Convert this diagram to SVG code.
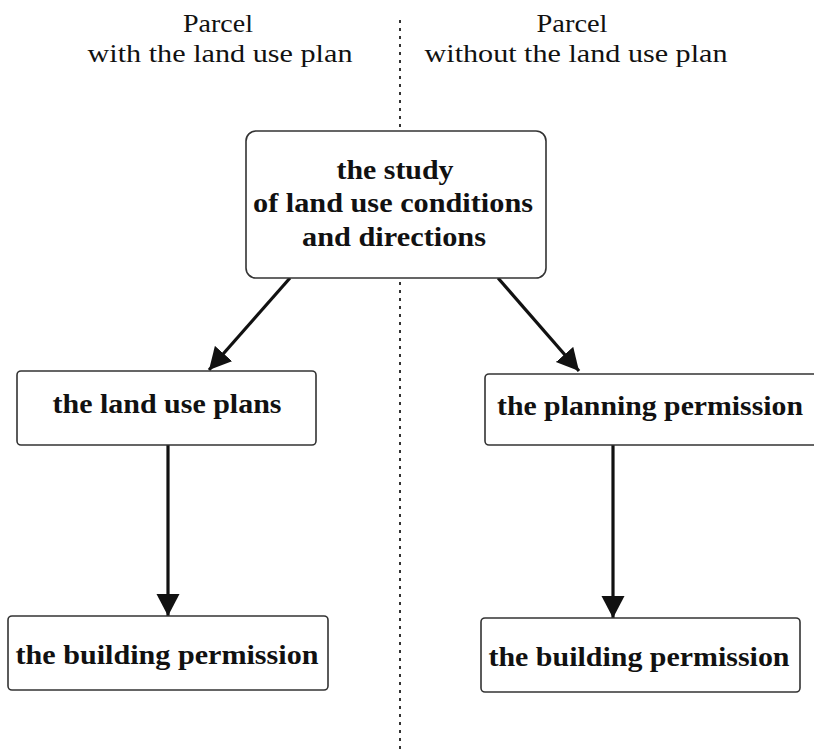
<svg xmlns="http://www.w3.org/2000/svg" width="814" height="752" viewBox="0 0 814 752">
<style>
.lbl{font-family:"Liberation Serif","Times New Roman",serif;font-size:26px;fill:#111;text-anchor:middle}
.nt{font-family:"Liberation Serif","Times New Roman",serif;font-size:27px;font-weight:bold;fill:#111;text-anchor:middle}
.box{fill:#fff;stroke:#333;stroke-width:1.6}
.con{stroke:#111;stroke-width:3.2;fill:none}
.div{stroke:#333;stroke-width:2;stroke-dasharray:3 5;fill:none}
</style>
<defs>
<marker id="ah" markerUnits="userSpaceOnUse" markerWidth="24" markerHeight="24" refX="22" refY="11.5" orient="auto">
<path d="M0,0 L22,11.5 L0,23 z" fill="#111"/>
</marker>
</defs>
<rect width="814" height="752" fill="#fff"/>
<g id="divider">
<path class="div" d="M400,20 V128 M400,282 V752"/>
</g>
<g id="labels">
<text class="lbl" x="218" y="32" textLength="70" lengthAdjust="spacingAndGlyphs">Parcel</text>
<text class="lbl" x="220" y="62" textLength="265" lengthAdjust="spacingAndGlyphs">with the land use plan</text>
<text class="lbl" x="572" y="32" textLength="71" lengthAdjust="spacingAndGlyphs">Parcel</text>
<text class="lbl" x="576" y="62" textLength="303" lengthAdjust="spacingAndGlyphs">without the land use plan</text>
</g>
<g id="connectors">
<path class="con" d="M290,278 L209,370" marker-end="url(#ah)"/>
<path class="con" d="M498,278 L579,371" marker-end="url(#ah)"/>
<path class="con" d="M168,445 V616" marker-end="url(#ah)"/>
<path class="con" d="M613,445 V618" marker-end="url(#ah)"/>
</g>
<g id="study">
<rect class="box" x="246" y="131" width="300" height="147" rx="10"/>
<text class="nt" x="395" y="179" textLength="117" lengthAdjust="spacingAndGlyphs">the study</text>
<text class="nt" x="393" y="212" textLength="280" lengthAdjust="spacingAndGlyphs">of land use conditions</text>
<text class="nt" x="394" y="246" textLength="184" lengthAdjust="spacingAndGlyphs">and directions</text>
</g>
<g id="landuseplans">
<rect class="box" x="17" y="371" width="299" height="74" rx="4"/>
<text class="nt" x="167" y="413" textLength="229" lengthAdjust="spacingAndGlyphs">the land use plans</text>
</g>
<g id="planning">
<rect class="box" x="485" y="374" width="335" height="71" rx="4"/>
<text class="nt" x="650" y="415" textLength="306" lengthAdjust="spacingAndGlyphs">the planning permission</text>
</g>
<g id="building-left">
<rect class="box" x="8" y="616" width="320" height="74" rx="4"/>
<text class="nt" x="167" y="664" textLength="303" lengthAdjust="spacingAndGlyphs">the building permission</text>
</g>
<g id="building-right">
<rect class="box" x="481" y="618" width="319" height="74" rx="4"/>
<text class="nt" x="639" y="666" textLength="301" lengthAdjust="spacingAndGlyphs">the building permission</text>
</g>
</svg>
